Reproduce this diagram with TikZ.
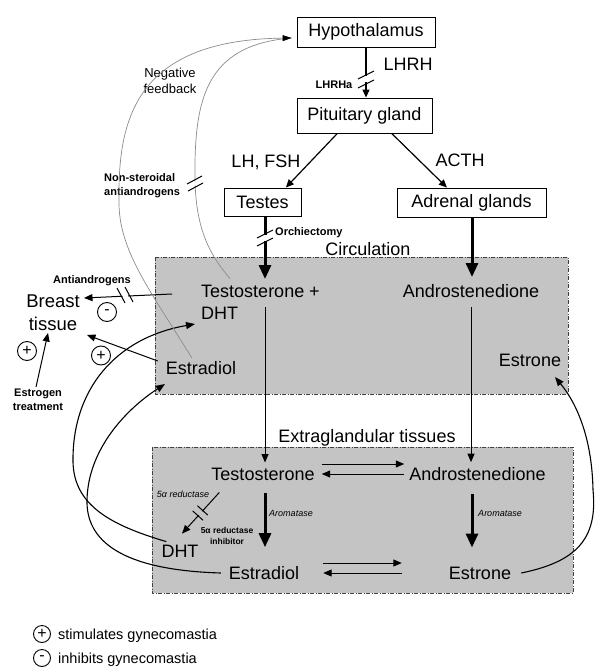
\documentclass[tikz,border=0pt]{standalone}
\usepackage{fontspec}
\setmainfont{Liberation Sans}
\usetikzlibrary{arrows.meta,calc}
\newcommand\fsz[2]{\fontsize{#1}{#2}\selectfont}
\tikzset{
  box/.style={draw, line width=0.9pt, inner sep=0pt, font=\fsz{18}{21}},
  lbl/.style={inner sep=0pt, font=\fsz{18}{22}},
  note/.style={inner sep=0pt, font=\bfseries\fsz{11}{14}},
  tinyit/.style={inner sep=0pt, font=\itshape\fsz{9}{11}},
  tinybf/.style={inner sep=0pt, font=\bfseries\fsz{8.5}{10.5}},
  legtext/.style={inner sep=0pt, font=\fsz{14.5}{17}, anchor=west},
  region/.style={fill=black!23, draw=black!75, line width=0.8pt,
    dash pattern=on 4pt off 1.5pt on 1pt off 1.5pt},
  arr/.style={line width=1.2pt, -{Triangle[length=8pt,width=7pt]}},
  thinarr/.style={line width=1pt, -{Triangle[length=8.5pt,width=7pt]}},
  bigarr/.style={line width=3pt, -{Triangle[length=14pt,width=12pt]}},
  curvarr/.style={line width=1.1pt, -{Triangle[length=9pt,width=7pt]}},
  fbline/.style={draw=black!45, line width=0.7pt},
  sign/.style={circle, draw, line width=0.9pt, minimum size=19pt, inner sep=0pt, font=\fsz{16}{16}},
  brkmark/.style={line width=1pt},
  brkgap/.style={line width=5pt, draw=white},
}
\begin{document}
\begin{tikzpicture}[x=1pt,y=-1pt]
\useasboundingbox[fill=white] (0,0) rectangle (599,668);
% regions
\path[region] (155,257) rectangle (568,394);
\path[region] (152,447) rectangle (573,593);

% boxes
\node[box, minimum width=138pt, minimum height=30pt] (hyp) at (366,32) {Hypothalamus};
\node[box, minimum width=135pt, minimum height=35pt] (pit) at (364.5,115.5) {Pituitary gland};
\node[box, minimum width=77pt, minimum height=28pt] (tes) at (262.5,202) {Testes};
\node[box, minimum width=149pt, minimum height=29pt] (adr) at (471.5,202.5) {Adrenal glands};

% labels
\node[lbl] (lhrh) at (408,64) {LHRH};
\node[note] (lhrha) at (334,85) {LHRHa};
\node[lbl] (lhfsh) at (266,162) {LH, FSH};
\node[lbl] (acth) at (460,160) {ACTH};
\node[note, align=left, anchor=west] (nsaa) at (104,186) {Non-steroidal\\antiandrogens};
\node[inner sep=0pt, font=\fsz{13}{15.5}, align=center] (negfb) at (170,81) {Negative\\feedback};
\node[note, anchor=west] (orch) at (275,233) {Orchiectomy};
\node[lbl] (circ) at (368,249) {Circulation};
\node[lbl, align=left, anchor=west] (tdht) at (201,302) {Testosterone +\\DHT};
\node[lbl] (can) at (471,291) {Androstenedione};
\node[lbl] (cest) at (201,368) {Estradiol};
\node[lbl] (ceso) at (530,360) {Estrone};
\node[lbl, align=center, font=\fsz{18.5}{23}] (breast) at (53,313) {Breast\\tissue};
\node[note] (antia) at (92,281) {Antiandrogens};
\node[sign] (m1) at (107,312) {-};
\node[sign] (p1) at (27,351) {+};
\node[sign] (p2) at (101,355.5) {+};
\node[note, align=center] (etr) at (38,400) {Estrogen\\treatment};
\node[lbl] (extra) at (367,438) {Extraglandular tissues};
\node[lbl] (tex) at (263,474) {Testosterone};
\node[lbl] (ean) at (477.5,474) {Androstenedione};
\node[lbl] (eed) at (264,573) {Estradiol};
\node[lbl] (eeo) at (480,573) {Estrone};
\node[lbl] (edht) at (180,551) {DHT};
\node[tinyit] (aro1) at (291,513) {Aromatase};
\node[tinyit] (aro2) at (500,513) {Aromatase};
\node[tinyit] (red) at (183,494) {5α reductase};
\node[tinybf, align=center] (redinh) at (227,536) {5α reductase\\inhibitor};

% legend
\node[sign, minimum size=17pt] (lp) at (42,634) {+};
\node[legtext] (lpt) at (58,636) {stimulates gynecomastia};
\node[sign, minimum size=17pt] (lm) at (42,658) {-};
\node[legtext] (lmt) at (58,660) {inhibits gynecomastia};

% hypothalamus -> pituitary (LHRHa block)
\draw[arr] (hyp.south) -- (hyp.south |- pit.north);
\draw[brkgap] (366,76.5) -- (366,82.5);
\draw[brkmark] (358,79) -- (374,71);
\draw[brkmark] (358,88) -- (374,80);

% pituitary -> testes / adrenal
\draw[arr] ($(pit.south west)!0.3!(pit.south east)$) -- ($(tes.north west)!0.8!(tes.north east)$);
\draw[arr] ($(pit.south west)!0.7!(pit.south east)$) -- ($(adr.north west)!0.336!(adr.north east)$);

% testes -> circulation (orchiectomy)
\coordinate (tesin) at (265,279);
\draw[bigarr] (tes.south -| tesin) -- (tesin);
\draw[brkgap, line width=7pt] (265,235) -- (265,241);
\draw[brkmark] (257,238) -- (273,230);
\draw[brkmark] (257,246) -- (273,238);

% adrenal -> circulation
\coordinate (adrin) at (472,277);
\draw[bigarr] (adr.south -| adrin) -- (adrin);

% circulation -> extraglandular
\coordinate (ct) at (265,307);
\draw[thinarr] (ct) -- ($(ct |- tex.north)+(0,-5)$);
\draw[thinarr] ($(can.south)+(0,9)$) -- ($(can.south |- ean.north)+(0,-5)$);

% interconversions
\draw[thinarr] ($(tex.east)+(7,-10)$) -- ($(ean.west)+(-5,-10)$);
\draw[thinarr] ($(ean.west)+(-5,0)$) -- ($(tex.east)+(7,0)$);
\draw[thinarr] ($(eed.east)+(24,-10)$) -- ($(eeo.west)+(-47,-10)$);
\draw[thinarr] ($(eeo.west)+(-47,0)$) -- ($(eed.east)+(24,0)$);

% aromatase
\draw[bigarr] ($(tex.south)+(2,13)$) -- ($(eed.north)+(1,-19)$);
\draw[bigarr] ($(ean.south)+(-5.5,13)$) -- ($(eeo.north)+(-8,-19)$);

% 5alpha reductase
\draw[thinarr] ($(tex.south west)+(8,12)$) -- ($(edht.north)+(2,-11)$);
\draw[brkgap, draw=black!23] (202.0,511.1) -- (198.5,514.9);
\draw[brkmark] (207.8,515.1) -- (197.4,505.7);
\draw[brkmark] (203.1,520.3) -- (192.7,510.9);

% antiandrogens to breast
\coordinate (bt1) at (84,298);
\draw[thinarr] ($(tdht.west)+(-29,-8)$) -- (bt1);
\draw[brkgap] (128,295.9) -- (122.5,296.2);
\draw[brkmark] (117,288) -- (125,303);
\draw[brkmark] (125,287) -- (133,302);

% estradiol -> breast
\coordinate (bt2) at (87,335);
\draw[thinarr] ($(cest.west)+(-8,-7)$) -- (bt2);
% estrogen treatment -> breast
\coordinate (bt3) at (48,333);
\draw[thinarr] ($(etr.north)+(-2,-2)$) -- (bt3);

% return curves
\coordinate (tip1) at (195,324);
\draw[curvarr] ($(edht.north west)+(5,-3)$) .. controls (110,525) and (74,505) .. (73,462)
   .. controls (72,390) and (115,338) .. (tip1);
\coordinate (tip2) at (165,384);
\draw[curvarr] ($(eed.west)+(-8,0)$) .. controls (120,570) and (86,540) .. (87,500)
   .. controls (88,450) and (125,410) .. (tip2);
\coordinate (tip3) at (555,377);
\draw[curvarr] ($(eeo.east)+(10,0)$) .. controls (575,562) and (598,540) .. (593,490)
   .. controls (592,440) and (578,405) .. (tip3);

% negative feedback
\coordinate (fbtip) at ($(hyp.west)+(-5,6)$);
\draw[fbline] ($(tdht.north west)+(29,-6)$) .. controls (210,255) and (196,230) .. (195,180)
   .. controls (194,100) and (205,45) .. (fbtip);
\draw[fbline, -{Triangle[length=9pt,width=6pt,color=black]}] ($(cest.north)+(-9,-3)$)
   .. controls (150,290) and (118,250) .. (119,200)
   .. controls (118,120) and (135,40) .. (fbtip);
\draw[brkgap] (195,181.5) -- (195.05,185.5);
\draw[brkmark] (187,184) -- (202,176);
\draw[brkmark] (188,191) -- (203,183);
\end{tikzpicture}
\end{document}
